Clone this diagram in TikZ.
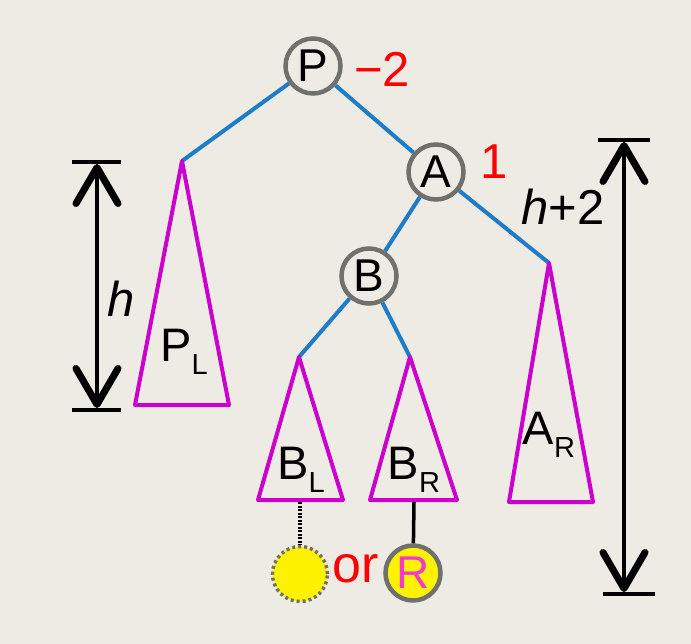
\documentclass[tikz,border=0pt]{standalone}
\usepackage{fontspec}
\setmainfont{Liberation Sans}
\usetikzlibrary{arrows.meta}
\definecolor{bg}{RGB}{238,235,228}
\definecolor{edgeblue}{RGB}{30,125,200}
\definecolor{trimag}{RGB}{204,0,204}
\definecolor{ringgray}{RGB}{112,112,108}
\definecolor{rpink}{RGB}{240,60,200}
\tikzset{
  tnode/.style={circle, draw=ringgray, line width=4.5pt, minimum size=55pt, inner sep=0pt, font=\fontsize{46}{46}\selectfont},
  edge/.style={draw=edgeblue, line width=4pt},
  tri/.style={draw=trimag, line width=4pt, line join=round},
  lbl/.style={font=\fontsize{47}{47}\selectfont, inner sep=0pt},
  bal/.style={text=red, font=\fontsize{49}{49}\selectfont, inner sep=0pt},
  bar/.style={draw=black, line width=4pt},
  dimarrow/.style={draw=black, line width=3.5pt, {Straight Barb[length=36pt,width=42pt,line width=7pt,round]}-{Straight Barb[length=36pt,width=42pt,line width=7pt,round]}},
}
\newcommand{\sub}[1]{\raisebox{-13pt}{\fontsize{29}{29}\selectfont #1}}
\begin{document}
\begin{tikzpicture}[x=1pt,y=-1pt]
\fill[bg] (0,0) rectangle (691,644);
\useasboundingbox (0,0) rectangle (691,644);
% apexes and bases
\coordinate (plA) at (182,161);
\coordinate (plL) at (135,405);
\coordinate (plR) at (229,405);
\coordinate (blA) at (299,357);
\coordinate (blL) at (258,500);
\coordinate (blR) at (343,500);
\coordinate (brA) at (410,357);
\coordinate (brL) at (370,500);
\coordinate (brR) at (457,500);
\coordinate (arA) at (549,263);
\coordinate (arL) at (509,502);
\coordinate (arR) at (593,502);
% tree nodes
\node[tnode] (P) at (313,66) {P};
\node[tnode] (A) at (436,172) {A};
\node[tnode] (B) at (369,276) {B};
\node[bal, anchor=west] (bp) at (354,69) {−2};
\node[bal, anchor=west] (ba) at (480,162) {1};
% edges
\draw[edge] (P) -- (plA);
\draw[edge] (P) -- (A);
\draw[edge] (A) -- (B);
\draw[edge] (A) -- (arA);
\draw[edge] (B) -- (blA);
\draw[edge] (B) -- (brA);
% triangles
\draw[tri] (plA) -- (plL) -- (plR) -- cycle;
\draw[tri] (blA) -- (blL) -- (blR) -- cycle;
\draw[tri] (brA) -- (brL) -- (brR) -- cycle;
\draw[tri] (arA) -- (arL) -- (arR) -- cycle;
\node[lbl] (plT) at (184,352) {P\sub{L}};
\node[lbl] (blT) at (301,470) {B\sub{L}};
\node[lbl] (brT) at (414,470) {B\sub{R}};
\node[lbl] (arT) at (549,435) {A\sub{R}};
% bottom circles
\node[circle, fill=yellow, draw=ringgray, line width=3.5pt, dash pattern=on 3pt off 3pt, minimum size=55pt] (Y) at (300,574) {};
\node[tnode, fill=yellow, text=rpink] (R) at (413,573) {R};
\node[text=red, font=\fontsize{52}{52}\selectfont, inner sep=0pt] (or) at (356,569) {or};
\coordinate (blB) at (300,502);
\coordinate (brB) at (414,502);
\draw[black, line width=3.5pt, dash pattern=on 2pt off 1.5pt] (blB) -- (Y);
\draw[black, line width=3.5pt] (brB) -- (R);
% left dimension
\coordinate (lt1) at (72,162);
\coordinate (lt2) at (121,162);
\coordinate (lb1) at (72,410);
\coordinate (lb2) at (121,410);
\coordinate (lt) at (97,164);
\coordinate (lb) at (97,408);
\draw[bar] (lt1) -- (lt2);
\draw[bar] (lb1) -- (lb2);
\draw[dimarrow] (lt) -- (lb);
\node[lbl, font=\fontsize{49}{49}\selectfont\itshape] (h) at (121,299) {h};
% right dimension
\coordinate (rt1) at (598,140);
\coordinate (rt2) at (650,140);
\coordinate (rb1) at (603,594);
\coordinate (rb2) at (655,594);
\coordinate (rt) at (624,142);
\coordinate (rb) at (624,592);
\draw[bar] (rt1) -- (rt2);
\draw[bar] (rb1) -- (rb2);
\draw[dimarrow] (rt) -- (rb);
\node[lbl, font=\fontsize{49}{49}\selectfont] (h2) at (563,207) {\textit{h}+2};
\end{tikzpicture}
\end{document}
